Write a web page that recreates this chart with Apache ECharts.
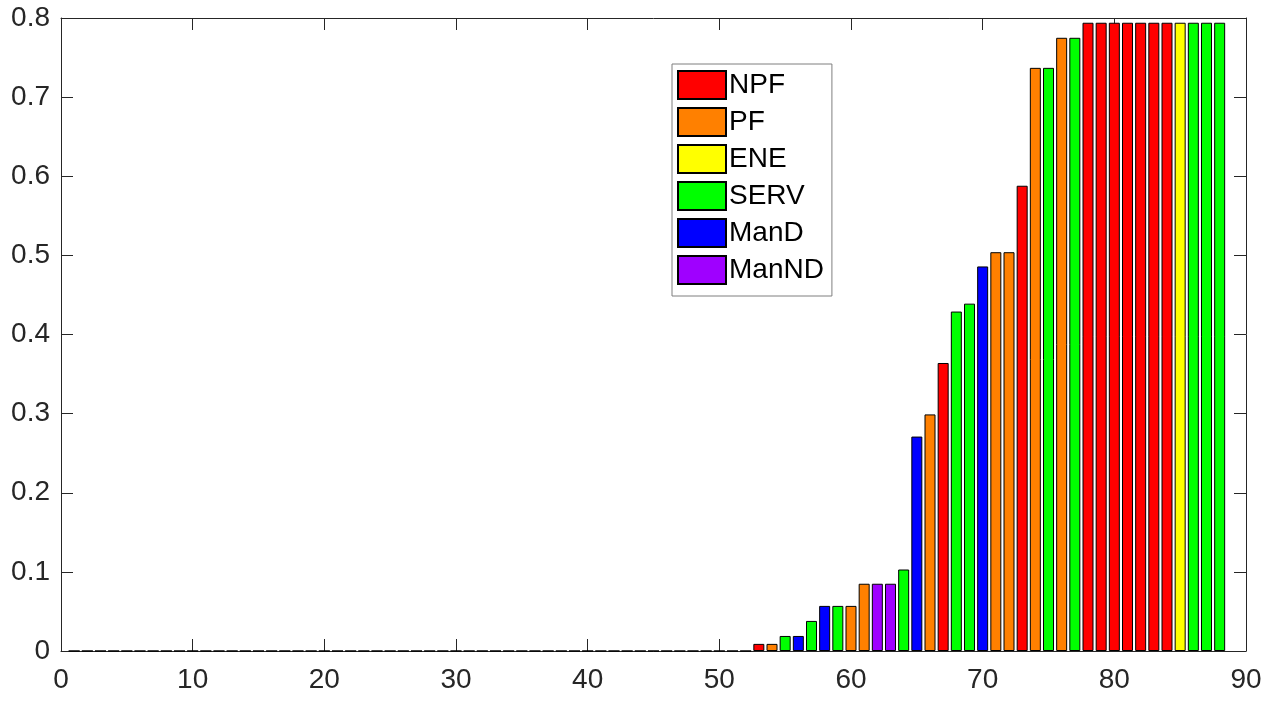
<!DOCTYPE html>
<html>
<head>
<meta charset="utf-8">
<script src="https://cdn.jsdelivr.net/npm/echarts@6/dist/echarts.min.js"></script>
<style>
html,body{margin:0;padding:0;background:#fff;}
#chart{width:1276px;height:702px;}
</style>
</head>
<body>
<div id="chart"></div>
<script>
// Sector names and colours (legend order)
const sectors = ['NPF', 'PF', 'ENE', 'SERV', 'ManD', 'ManND'];
const sectorColors = ['#ff0000', '#ff8000', '#ffff00', '#00ff00', '#0000ff', '#9f00ff'];

// Bars 1..52 are zero
const zeroValues = [0,0,0,0,0,0,0,0,0,0, 0,0,0,0,0,0,0,0,0,0, 0,0,0,0,0,0,0,0,0,0,
                    0,0,0,0,0,0,0,0,0,0, 0,0,0,0,0,0,0,0,0,0, 0,0];

// Bars 53..88
const barSectors = ['NPF','PF','SERV','ManD','SERV','ManD','SERV','PF','PF','ManND','ManND','SERV',
                    'ManD','PF','NPF','SERV','SERV','ManD','PF','PF','NPF','PF','SERV','PF','SERV',
                    'NPF','NPF','NPF','NPF','NPF','NPF','NPF','ENE','SERV','SERV','SERV'];
const barValues = [0.009,0.009,0.019,0.019,0.038,0.057,0.057,0.057,0.085,0.085,0.085,0.103,
                   0.271,0.299,0.364,0.429,0.439,0.486,0.504,0.504,0.588,0.737,0.737,0.775,0.775,
                   0.794,0.794,0.794,0.794,0.794,0.794,0.794,0.794,0.794,0.794,0.794];

const xTicks = [0,10,20,30,40,50,60,70,80,90];
const yTicks = [0,0.1,0.2,0.3,0.4,0.5,0.6,0.7,0.8];

const FONT = '"Liberation Sans", Arial, Helvetica, sans-serif';
const AXC = '#262626';
const BW = 11;

const firstPos = zeroValues.length + 1;
const series = [];
series.push({
  name: 'zero', type: 'bar', barWidth: BW, barGap: '-100%',
  itemStyle: { color: '#ffffff', borderColor: '#000', borderWidth: 1 },
  data: zeroValues.map((v, i) => [i + 1, v]),
  silent: true, animation: false
});
sectors.forEach((s, k) => {
  const data = [];
  barValues.forEach((v, i) => { if (barSectors[i] === s) data.push([firstPos + i, v]); });
  series.push({
    name: s, type: 'bar', barWidth: BW, barGap: '-100%',
    itemStyle: { color: sectorColors[k], borderColor: '#000', borderWidth: 1 },
    data: data, animation: false
  });
});

const axisCommon = {
  type: 'value',
  axisLine: { show: true, onZero: false, lineStyle: { color: AXC, width: 1 } },
  axisTick: { show: true, inside: true, length: 12, lineStyle: { color: AXC, width: 1 } },
  splitLine: { show: false }
};

const chart = echarts.init(document.getElementById('chart'), null, { renderer: 'canvas' });
chart.setOption({
  backgroundColor: '#fff',
  animation: false,
  grid: { left: 61, right: 30, top: 18, bottom: 51, containLabel: false },
  legend: {
    data: sectors.map(s => ({ name: s, icon: 'rect' })),
    orient: 'vertical',
    left: 672, top: 64,
    padding: [6, 8, 11, 5],
    itemWidth: 48, itemHeight: 28, itemGap: 7,
    backgroundColor: '#fff',
    borderColor: '#7f7f7f', borderWidth: 1,
    textStyle: { fontFamily: FONT, fontSize: 28, color: '#000', padding: [0, 0, 0, -2] },
    selectedMode: false
  },
  xAxis: [
    Object.assign({}, axisCommon, {
      position: 'bottom', min: xTicks[0], max: xTicks[xTicks.length - 1], interval: 10,
      axisLabel: { show: true, fontFamily: FONT, fontSize: 28, color: AXC, margin: 15 }
    }),
    Object.assign({}, axisCommon, {
      position: 'top', min: xTicks[0], max: xTicks[xTicks.length - 1], interval: 10,
      axisLabel: { show: false }
    })
  ],
  yAxis: [
    Object.assign({}, axisCommon, {
      position: 'left', min: yTicks[0], max: yTicks[yTicks.length - 1], interval: 0.1,
      axisLabel: { show: true, fontFamily: FONT, fontSize: 28, color: AXC, margin: 11,
        padding: [4, 0, 0, 0],
        formatter: v => String(Math.round(v * 10) / 10) }
    }),
    Object.assign({}, axisCommon, {
      position: 'right', min: yTicks[0], max: yTicks[yTicks.length - 1], interval: 0.1,
      axisLabel: { show: false }
    })
  ],
  series: series
});
</script>
</body>
</html>
